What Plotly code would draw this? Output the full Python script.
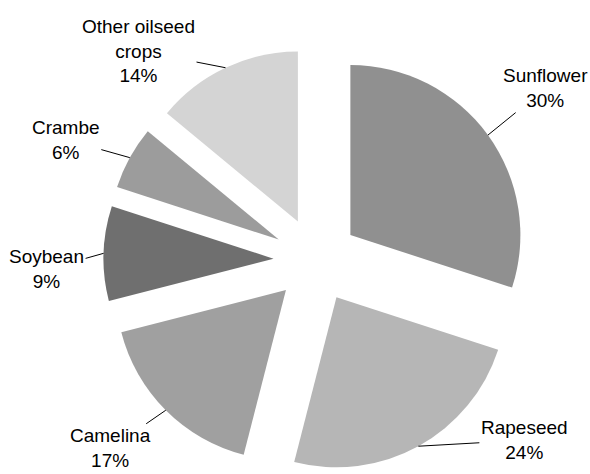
import math
import plotly.graph_objects as go

# ---- data ----
crops = ["Sunflower", "Rapeseed", "Camelina", "Soybean", "Crambe", "Other oilseed<br>crops"]
shares = [30, 24, 17, 9, 6, 14]

# ---- styling ----
colors = ["#909090", "#b6b6b6", "#a0a0a0", "#6f6f6f", "#9c9c9c", "#d4d4d4"]
PULL = 0.25
W, H = 590, 474
CX, CY = 316, 214            # pie centre in px (from left / from bottom)
EXT = 212.5                  # radius * (1 + pull) in px
label_offsets = [(58, -47), (106, -6), (-55, 38), (-57, 16), (-64, -18), (-87, -17)]
FONT = "Liberation Sans, Arial, sans-serif"

fig = go.Figure(go.Pie(
    labels=crops,
    values=shares,
    sort=False,
    direction="clockwise",
    rotation=0,
    pull=[PULL] * len(shares),
    marker=dict(colors=colors, line=dict(width=0)),
    textinfo="none",
    hoverinfo="label+percent",
    showlegend=False,
    domain=dict(x=[(CX - EXT) / W, (CX + EXT) / W], y=[(CY - EXT) / H, (CY + EXT) / H]),
))

# leader-line labels at each slice's bisector on the (pulled) outer arc
total = sum(shares)
start = 0.0
annotations = []
for name, v, (ax, ay) in zip(crops, shares, label_offsets):
    frac = v / total
    mid = (start + frac / 2) * 2 * math.pi
    start += frac
    px = CX + EXT * math.sin(mid)
    py = CY + EXT * math.cos(mid)
    pct = round(100 * frac)
    annotations.append(dict(
        x=px / W, y=py / H, xref="paper", yref="paper",
        ax=ax, ay=ay, axref="pixel", ayref="pixel",
        text=f"{name}<br>{pct}%", showarrow=True, arrowhead=0,
        arrowwidth=1, arrowcolor="#000000", standoff=0,
        font=dict(family=FONT, size=19, color="#000000"),
        align="center",
    ))

fig.update_layout(
    width=W, height=H,
    margin=dict(l=0, r=0, t=0, b=0),
    paper_bgcolor="white", plot_bgcolor="white",
    annotations=annotations,
)

fig.write_html(
    "out.html",
    config={"displayModeBar": False},
    post_script="document.body.style.margin='0';document.body.style.overflow='hidden';",
)
